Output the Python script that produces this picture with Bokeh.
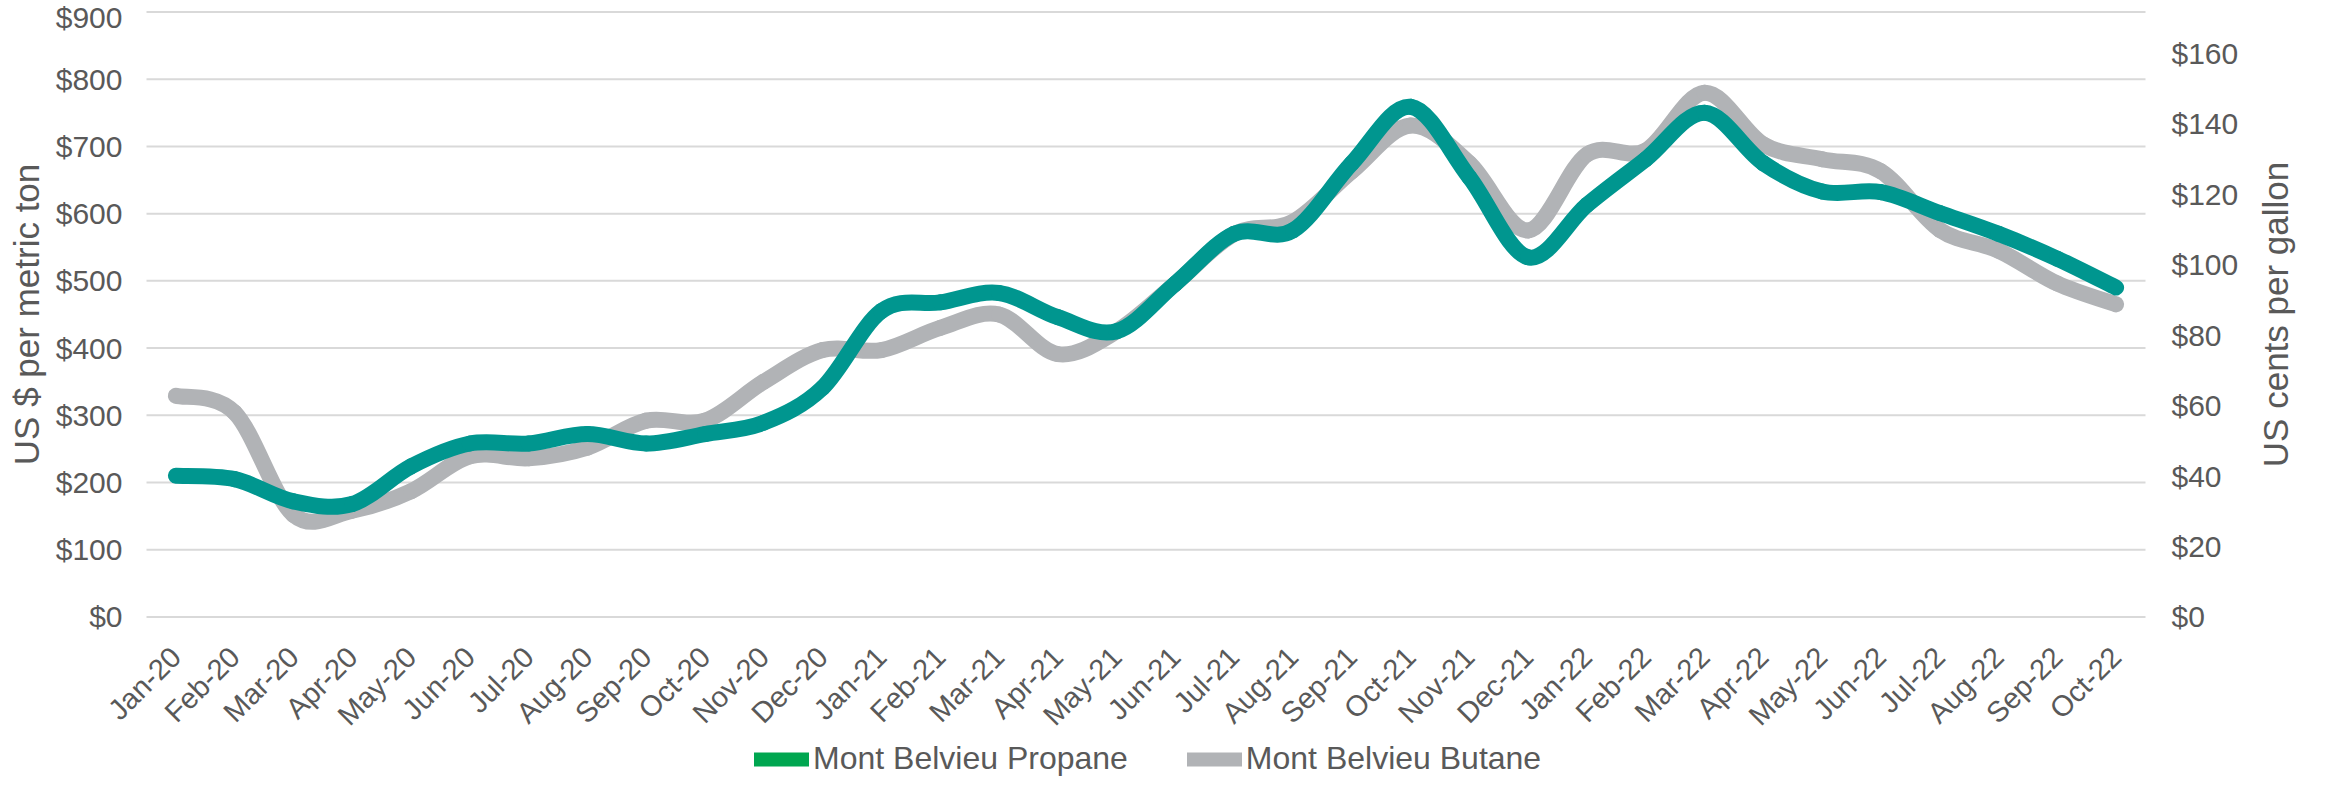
import math
from bokeh.plotting import figure
from bokeh.models import (Range1d, LinearAxis, FixedTicker, NumeralTickFormatter,
                          Legend, LegendItem, ColumnDataSource, Label)
from bokeh.embed import file_html
from bokeh.resources import INLINE

months = ["Jan-20", "Feb-20", "Mar-20", "Apr-20", "May-20", "Jun-20", "Jul-20", "Aug-20",
          "Sep-20", "Oct-20", "Nov-20", "Dec-20", "Jan-21", "Feb-21", "Mar-21", "Apr-21",
          "May-21", "Jun-21", "Jul-21", "Aug-21", "Sep-21", "Oct-21", "Nov-21", "Dec-21",
          "Jan-22", "Feb-22", "Mar-22", "Apr-22", "May-22", "Jun-22", "Jul-22", "Aug-22",
          "Sep-22", "Oct-22"]

propane = [210, 205, 172, 168, 224, 258, 258, 272, 258, 272, 289, 341, 455, 468,
           482, 446, 425, 496, 570, 575, 675, 759, 654, 535, 613, 681, 750, 675,
           633, 632, 601, 570, 533, 490]

butane = [329, 304, 152, 158, 187, 239, 236, 252, 292, 292, 350, 397, 397, 430,
          450, 391, 425, 496, 570, 588, 663, 731, 675, 575, 688, 694, 780, 703,
          681, 663, 576, 545, 496, 465]

left_ticks = [0, 100, 200, 300, 400, 500, 600, 700, 800, 900]
right_ticks = [0, 20, 40, 60, 80, 100, 120, 140, 160]
GAL_PER_TON = 5.24  # $/t -> US cents per gallon divisor

FONT = "Liberation Sans"
TXT = "#595959"
TEAL = "#00968F"
GREEN = "#00A650"
GRAY = "#B1B3B6"

# ---- layout (pixels) ----
W, H = 2310, 777
FRAME_H = 763                    # drawable frame height (Bokeh keeps a small strip below)
PLOT_L, PLOT_R = 146, 2145       # where the category area starts / ends
PLOT_T, PLOT_B = 11.3, 605.3     # where 900 and 0 sit

n = len(months)
x_lo, x_hi = -0.5, n - 0.5
px_x = (PLOT_R - PLOT_L) / (x_hi - x_lo)
px_y = (PLOT_B - PLOT_T) / (left_ticks[-1] - left_ticks[0])
X_START = x_lo - PLOT_L / px_x
X_END = x_hi + (W - PLOT_R) / px_x
Y_END = left_ticks[-1] + PLOT_T / px_y
Y_START = Y_END - FRAME_H / px_y
Y_MID = (left_ticks[0] + left_ticks[-1]) / 2


def bezier_cols(vals):
    m = len(vals)
    xs = list(range(m))
    c = dict(x0=[], y0=[], x1=[], y1=[], cx0=[], cy0=[], cx1=[], cy1=[])
    for i in range(m - 1):
        a = max(i - 1, 0)
        b = min(i + 2, m - 1)
        c["x0"].append(xs[i]); c["y0"].append(vals[i])
        c["x1"].append(xs[i + 1]); c["y1"].append(vals[i + 1])
        c["cx0"].append(xs[i] + (xs[i + 1] - xs[a]) / 6)
        c["cy0"].append(vals[i] + (vals[i + 1] - vals[a]) / 6)
        c["cx1"].append(xs[i + 1] - (xs[b] - xs[i]) / 6)
        c["cy1"].append(vals[i + 1] - (vals[b] - vals[i]) / 6)
    return c


p = figure(width=W, height=H,
           x_range=Range1d(X_START, X_END), y_range=Range1d(Y_START, Y_END),
           output_backend="svg", toolbar_location=None,
           min_border_left=0, min_border_right=0, min_border_top=0, min_border_bottom=0)
p.outline_line_color = None
p.background_fill_color = "white"
p.border_fill_color = "white"
p.xgrid.visible = False
p.ygrid.visible = False

p.extra_y_ranges = {"r": Range1d(Y_START / GAL_PER_TON, Y_END / GAL_PER_TON)}

# x axis pinned at value 0
xa = p.xaxis[0]
xa.fixed_location = 0
xa.ticker = FixedTicker(ticks=list(range(n)))
xa.major_label_overrides = {i: m for i, m in enumerate(months)}
xa.major_label_orientation = math.pi / 4

# left axis pinned at the start of the category area
ya = p.yaxis[0]
ya.fixed_location = x_lo
ya.ticker = FixedTicker(ticks=left_ticks)
ya.formatter = NumeralTickFormatter(format="$0")

# right axis pinned at the end of the category area
ra = LinearAxis(y_range_name="r", ticker=FixedTicker(ticks=right_ticks),
                formatter=NumeralTickFormatter(format="$0"))
ra.fixed_location = x_hi
p.add_layout(ra, "right")

for ax in [xa, ya, ra]:
    ax.axis_line_color = None
    ax.major_tick_line_color = None
    ax.minor_tick_line_color = None
    ax.major_label_text_font = FONT
    ax.major_label_text_font_size = "30px"
    ax.major_label_text_color = TXT
xa.major_label_text_font_size = "29px"
xa.major_label_standoff = 29
ya.major_label_standoff = 18
ra.major_label_standoff = 20

# axis titles
p.add_layout(Label(x=26, y=Y_MID, x_units="screen",
                   text="US $ per metric ton", angle=math.pi / 2,
                   text_align="center", text_baseline="middle",
                   text_font=FONT, text_font_size="35px", text_color=TXT))
p.add_layout(Label(x=2275, y=Y_MID, x_units="screen",
                   text="US cents per gallon", angle=math.pi / 2,
                   text_align="center", text_baseline="middle",
                   text_font=FONT, text_font_size="35px", text_color=TXT))

# horizontal gridlines over the category area
p.segment(x0=[x_lo] * len(left_ticks), x1=[x_hi] * len(left_ticks),
          y0=left_ticks, y1=left_ticks, line_color="#D9D9D9", line_width=2)

# lines (smoothed through the data points)
src_b = ColumnDataSource(bezier_cols(butane))
src_p = ColumnDataSource(bezier_cols(propane))
p.bezier(x0="x0", y0="y0", x1="x1", y1="y1", cx0="cx0", cy0="cy0", cx1="cx1", cy1="cy1",
         source=src_b, line_color=GRAY, line_width=16, line_cap="round")
p.bezier(x0="x0", y0="y0", x1="x1", y1="y1", cx0="cx0", cy0="cy0", cx1="cx1", cy1="cy1",
         source=src_p, line_color=TEAL, line_width=16, line_cap="round")

# legend swatches (one invisible point each so the legend draws them)
nan = float("nan")
lg_p = p.line(x=[nan], y=[nan], line_color=GREEN, line_width=14, line_cap="round")
lg_b = p.line(x=[nan], y=[nan], line_color=GRAY, line_width=14, line_cap="round")

legend = Legend(items=[LegendItem(label="Mont Belvieu Propane", renderers=[lg_p]),
                       LegendItem(label="Mont Belvieu Butane", renderers=[lg_b])],
                orientation="horizontal", location=(754, 0),
                glyph_width=55, glyph_height=16, label_height=16, label_standoff=4, spacing=59,
                padding=0, margin=0, border_line_color=None, background_fill_alpha=0,
                label_text_font=FONT, label_text_font_size="32px", label_text_color=TXT)
p.add_layout(legend, "center")

open("out.html", "w").write(file_html(p, INLINE))
